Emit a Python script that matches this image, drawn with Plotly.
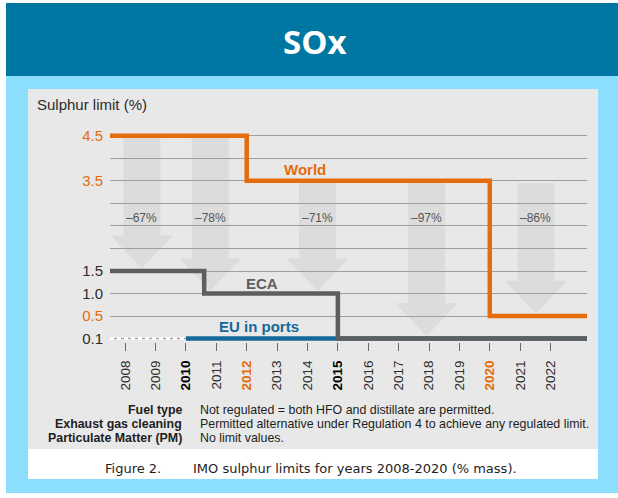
import plotly.graph_objects as go

# ---------------- data: IMO sulphur limits (% mass) ----------------
years = list(range(2008, 2023))

world_from = [2007.5, 2012, 2020]
world_limit = [4.5, 3.5, 0.5]

eca_from = [2007.5, 2010.6, 2015]
eca_limit = [1.5, 1.0, 0.1]

eu_from = [2010]
eu_limit = [0.1]
eu_unregulated_from = 2007.5

# reduction arrows: where each sits and the two limits it compares
arrow_year = [2008.55, 2010.8, 2014.33, 2017.92, 2021.52]
arrow_high = [4.5, 4.5, 3.5, 3.5, 3.5]
arrow_low = [1.5, 1.0, 1.0, 0.1, 0.5]

# rows of the broken vertical scale (bottom to top); None = unlabelled row
scale_values = [0.1, 0.5, 1.0, 1.5, None, None, None, 3.5, None, 4.5]
orange_values = [0.5, 3.5, 4.5]

bold_years = [2010, 2015]
orange_years = [2012, 2020]

table_keys = ["Fuel type", "Exhaust gas cleaning", "Particulate Matter (PM)"]
table_texts = [
    "Not regulated = both HFO and distillate are permitted.",
    "Permitted alternative under Regulation 4 to achieve any regulated limit.",
    "No limit values.",
]

# ---------------- styling ----------------
W, H = 618, 498
ML, MR, MT, MB = 110, 31, 129, 156
X_MIN, X_MAX = 2007.5, 2023.2
Y_MIN, Y_MAX = -0.15, 9.3

ORANGE = "#E46C0A"
GREY_LINE = "#5E5E5E"
BLUE = "#17689A"
HEADER = "#0077A3"
SKY = "#8CDEFD"
PANEL = "#E8E8E8"
ARROW = "#DCDCDC"
TEXT = "#2B2B2B"
FONT = "Liberation Sans, Arial, sans-serif"

PW = W - ML - MR
PH = H - MT - MB


def px_x(px):
    return (px - ML) / PW


def px_y(py):
    return (H - MB - py) / PH


def row(v):
    return scale_values.index(v)


def step_xy(starts, limits):
    xs = list(starts) + [X_MAX]
    ys = [row(v) for v in limits] + [row(limits[-1])]
    return xs, ys


def page_text(px, py, text, size, color, family=FONT, xanchor="left"):
    return dict(x=px_x(px), y=px_y(py), xref="paper", yref="paper",
                text=text, showarrow=False, xanchor=xanchor, yanchor="middle",
                font=dict(family=family, size=size, color=color))


fig = go.Figure()

# EU ports: no limit before 2010 (dotted), then 0.1 %
fig.add_trace(go.Scatter(
    x=[eu_unregulated_from, eu_from[0]], y=[row(eu_limit[0])] * 2,
    mode="lines", line=dict(color="white", width=3, dash="4px,3px"),
    hoverinfo="skip", showlegend=False))
ex, ey = step_xy(eu_from, eu_limit)
fig.add_trace(go.Scatter(x=ex, y=ey, mode="lines", line_shape="hv",
                         line=dict(color=BLUE, width=4.5),
                         hoverinfo="skip", showlegend=False))
cx, cy = step_xy(eca_from, eca_limit)
fig.add_trace(go.Scatter(x=cx, y=cy, mode="lines", line_shape="hv",
                         line=dict(color=GREY_LINE, width=4.5),
                         hoverinfo="skip", showlegend=False))
wx, wy = step_xy(world_from, world_limit)
fig.add_trace(go.Scatter(x=wx, y=wy, mode="lines", line_shape="hv",
                         line=dict(color=ORANGE, width=4.5),
                         hoverinfo="skip", showlegend=False))

shapes = []
# page backgrounds (pixel boxes converted to paper coordinates)
for (x0, y0, x1, y1, col) in [
    (6, 3, 618, 76, HEADER),
    (6, 76, 618, 493, SKY),
    (28, 89, 598, 449, PANEL),
    (28, 449, 598, 479, "white"),
]:
    shapes.append(dict(type="rect", xref="paper", yref="paper",
                       x0=px_x(x0), x1=px_x(x1), y0=px_y(y1), y1=px_y(y0),
                       line_width=0, fillcolor=col, layer="below"))

# reduction arrows, under the gridlines
SHAFT_HALF, HEAD_HALF, HEAD_H = 0.61, 1.03, 1.45
annotations = []
for xc, hi, lo in zip(arrow_year, arrow_high, arrow_low):
    top = row(hi) - 0.1
    tip = row(lo) + 0.12
    neck = tip + HEAD_H
    path = (f"M {xc - SHAFT_HALF},{top} L {xc + SHAFT_HALF},{top} "
            f"L {xc + SHAFT_HALF},{neck} L {xc + HEAD_HALF},{neck} "
            f"L {xc},{tip} L {xc - HEAD_HALF},{neck} "
            f"L {xc - SHAFT_HALF},{neck} Z")
    shapes.append(dict(type="path", xref="x", yref="y", path=path,
                       fillcolor=ARROW, line_width=0, layer="below"))
    pct = round((1 - lo / hi) * 100)
    annotations.append(dict(x=xc, y=5.35, xref="x", yref="y",
                            text=f"\u2013{pct}%", showarrow=False,
                            xanchor="center", yanchor="middle",
                            font=dict(family=FONT, size=12, color="#555555")))

# series names
for txt, x, y, col in [("World", 2013.92, 7.52, ORANGE),
                       ("ECA", 2012.51, 2.46, "#5E5E5E"),
                       ("EU in ports", 2012.40, 0.56, BLUE)]:
    annotations.append(dict(x=x, y=y, xref="x", yref="y", text=f"<b>{txt}</b>",
                            showarrow=False, xanchor="center", yanchor="middle",
                            font=dict(family=FONT, size=15, color=col)))

# header title
annotations.append(page_text(315, 41, "<b>SOx</b>", 33, "white",
                             family="Open Sans, sans-serif", xanchor="center"))
# axis title
annotations.append(page_text(35, 104, "Sulphur limit (%)", 15, TEXT))

# table under the chart
for yy, k, t in zip([410, 424, 437.5], table_keys, table_texts):
    annotations.append(page_text(184, yy, f"<b>{k}</b>", 12.4, "#1E1E1E",
                                 xanchor="right"))
    annotations.append(page_text(198, yy, t, 12.4, "#1E1E1E"))

# caption
CAP_FONT = "DejaVu Sans, Verdana, sans-serif"
annotations.append(page_text(103, 468.5, "Figure 2.", 13, "#1E1E1E",
                             family=CAP_FONT))
annotations.append(page_text(191, 468.5,
                             "IMO sulphur limits for years 2008-2020 (% mass).",
                             13, "#1E1E1E", family=CAP_FONT))

# tick labels
x_ticktext = []
for y in years:
    if y in orange_years:
        x_ticktext.append(f'<span style="color:{ORANGE}"><b>{y}</b></span>')
    elif y in bold_years:
        x_ticktext.append(f'<b><span style="color:#000">{y}</span></b>')
    else:
        x_ticktext.append(str(y))

y_tickvals = list(range(len(scale_values)))
y_ticktext = []
for v in scale_values:
    if v is None:
        y_ticktext.append("")
    elif v in orange_values:
        y_ticktext.append(f'<span style="color:{ORANGE}">{v:.1f}</span>')
    else:
        y_ticktext.append(f"{v:.1f}")

fig.update_layout(
    width=W, height=H,
    margin=dict(l=ML, r=MR, t=MT, b=MB, pad=0),
    paper_bgcolor="white",
    plot_bgcolor="rgba(0,0,0,0)",
    shapes=shapes,
    annotations=annotations,
    showlegend=False,
    font=dict(family=FONT, color=TEXT),
    xaxis=dict(range=[X_MIN, X_MAX], tickvals=years, ticktext=x_ticktext,
               tickangle=-90, ticks="outside", ticklen=8, tickwidth=1,
               tickcolor="#6A6A6A", showgrid=False, zeroline=False,
               showline=False, ticklabelstandoff=4,
               tickfont=dict(family=FONT, size=13.5, color=TEXT),
               fixedrange=True),
    yaxis=dict(range=[Y_MIN, Y_MAX], tickvals=y_tickvals, ticktext=y_ticktext,
               showgrid=True, gridcolor="#9E9E9E", gridwidth=1.2,
               zeroline=False, showline=False, ticks="",
               ticklabelstandoff=6,
               tickfont=dict(family=FONT, size=15, color=TEXT),
               fixedrange=True),
)

fig.write_html("out.html")
